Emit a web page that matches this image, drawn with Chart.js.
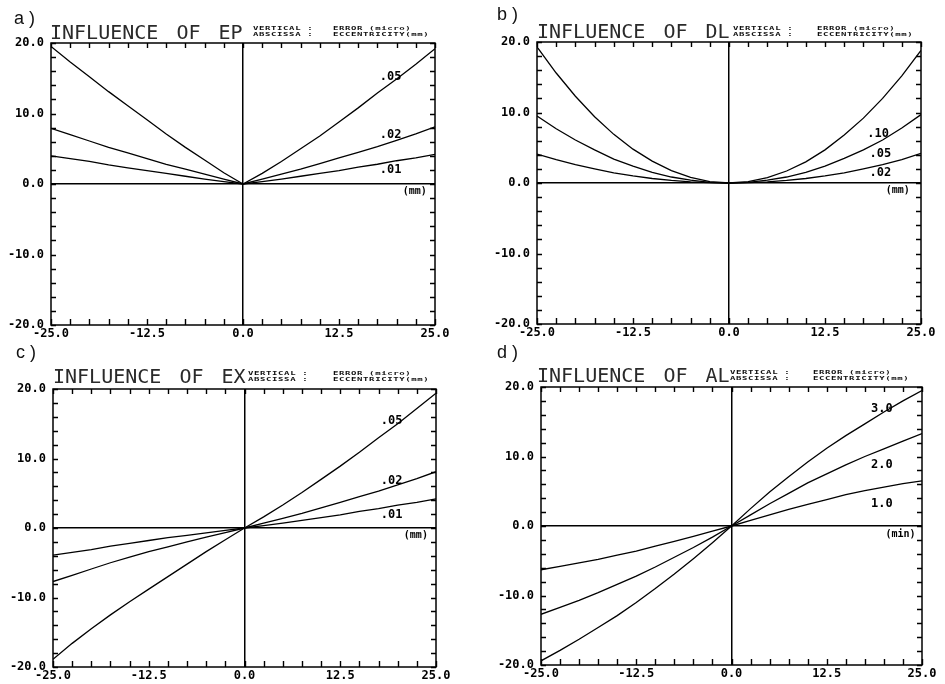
<!DOCTYPE html>
<html><head><meta charset="utf-8">
<script src="https://cdn.jsdelivr.net/npm/chart.js@4.4.0/dist/chart.umd.min.js"></script>
<style>
html,body{margin:0;padding:0;background:#fff;}
body{width:945px;height:684px;position:relative;overflow:hidden;}
.box{position:absolute;}
.lab{position:absolute;font:18px 'Liberation Sans',sans-serif;color:#111;line-height:18px;white-space:pre;}
.ttl{position:absolute;font:20px 'DejaVu Sans Mono',monospace;color:#2a2a2a;word-spacing:6px;white-space:nowrap;line-height:20px;}
.sub{position:absolute;font:bold 9px 'DejaVu Sans Mono',monospace;line-height:9px;letter-spacing:0.6px;white-space:pre;color:#111;transform:scaleY(0.62);transform-origin:0 0;}
</style></head><body>
<script>
// ---- data ----
const X = [-25,-22.5,-20,-17.5,-15,-12.5,-10,-7.5,-5,-2.5,0,2.5,5,7.5,10,12.5,15,17.5,20,22.5,25];
const xTickLabels = [-25,-12.5,0,12.5,25];
const yTickLabels = [-20,-10,0,10,20];

// a) influence of EP
const ep05 = [19.5,17.3,15.2,13.1,11.1,9.1,7.1,5.2,3.4,1.6,0,1.5,3.2,5.0,6.8,8.8,10.8,12.9,14.9,17.0,19.2];
const ep02 = [7.9,7.0,6.1,5.2,4.4,3.6,2.8,2.1,1.4,0.7,0,0.7,1.4,2.1,2.9,3.7,4.5,5.3,6.2,7.1,8.1];
const ep01 = [4.0,3.6,3.2,2.7,2.3,1.9,1.5,1.1,0.7,0.35,0,0.35,0.7,1.1,1.5,1.9,2.4,2.8,3.3,3.7,4.2];
// b) influence of DL
const dl10 = [19.3,15.6,12.3,9.4,6.9,4.8,3.1,1.75,0.8,0.2,0,0.2,0.75,1.7,3.0,4.7,6.8,9.2,12.0,15.2,18.8];
const dl05 = [9.5,7.7,6.1,4.7,3.4,2.4,1.5,0.85,0.4,0.1,0,0.1,0.4,0.85,1.5,2.4,3.5,4.7,6.1,7.8,9.7];
const dl02 = [4.1,3.3,2.6,2.0,1.45,1.0,0.64,0.36,0.16,0.04,0,0.04,0.16,0.36,0.64,1.0,1.45,2.0,2.6,3.3,4.2];
// c) influence of EX
const ex05 = [-18.9,-16.6,-14.5,-12.5,-10.6,-8.8,-7.0,-5.2,-3.4,-1.7,0,1.6,3.3,5.1,7.0,8.9,10.9,13.0,15.0,17.2,19.4];
const ex02 = [-7.7,-6.8,-5.9,-5.0,-4.2,-3.4,-2.7,-2.0,-1.3,-0.65,0,0.7,1.4,2.1,2.9,3.7,4.5,5.3,6.2,7.1,8.1];
const ex01 = [-3.9,-3.5,-3.1,-2.6,-2.2,-1.8,-1.4,-1.05,-0.7,-0.35,0,0.35,0.7,1.1,1.5,1.9,2.4,2.8,3.3,3.7,4.2];
// d) influence of AL
const al30 = [-19.4,-17.9,-16.3,-14.6,-12.9,-11.0,-9.0,-6.9,-4.7,-2.4,0,2.5,4.9,7.1,9.2,11.2,13.0,14.7,16.4,18.0,19.5];
const al20 = [-12.7,-11.7,-10.7,-9.6,-8.4,-7.2,-5.9,-4.5,-3.1,-1.6,0,1.6,3.2,4.7,6.2,7.5,8.8,10.0,11.1,12.2,13.3];
const al10 = [-6.3,-5.8,-5.3,-4.8,-4.2,-3.6,-2.9,-2.2,-1.5,-0.75,0,0.8,1.6,2.4,3.1,3.8,4.5,5.1,5.6,6.1,6.5];

const namesA = ['.05','.02','.01'];
const namesB = ['.10','.05','.02'];
const namesC = ['.05','.02','.01'];
const namesD = ['3.0','2.0','1.0'];

// ---- layout ----
const panels = [
  {tag:'a )', title:'INFLUENCE OF EP', series:[ep05,ep02,ep01], names:namesA, unit:'(mm)',
   box:[0,0,470,342], area:{l:51,t:43,r:435,b:325},
   namePos:[[17.8,15.2],[17.8,6.9],[17.8,2.0]], unitPos:[20.8,-1.0],
   tagXY:[14,9], titleXY:[50,22], subX:[253,333], subY:26},
  {tag:'b )', title:'INFLUENCE OF DL', series:[dl10,dl05,dl02], names:namesB, unit:'(mm)',
   box:[470,0,475,342], area:{l:537,t:42,r:921,b:324},
   namePos:[[18.0,7.0],[18.3,4.2],[18.3,1.4]], unitPos:[20.4,-1.0],
   tagXY:[497,5], titleXY:[537,21], subX:[733,817], subY:26},
  {tag:'c )', title:'INFLUENCE OF EX', series:[ex05,ex02,ex01], names:namesC, unit:'(mm)',
   box:[0,342,470,342], area:{l:53,t:389,r:436,b:667},
   namePos:[[17.8,15.4],[17.8,6.8],[17.8,1.9]], unitPos:[20.8,-1.0],
   tagXY:[16,343], titleXY:[53,366], subX:[248,333], subY:371},
  {tag:'d )', title:'INFLUENCE OF AL', series:[al30,al20,al10], names:namesD, unit:'(min)',
   box:[470,342,475,342], area:{l:541,t:387,r:922,b:665},
   namePos:[[18.3,16.9],[18.3,8.8],[18.3,3.2]], unitPos:[20.2,-1.2],
   tagXY:[497,343], titleXY:[537,365], subX:[730,813], subY:370},
];

const tickFont = {family:'DejaVu Sans Mono', size:12, weight:'bold'};

const framePlugin = {
  id:'frame',
  afterDraw(chart, args, opts){
    const ctx=chart.ctx, a=chart.chartArea, xs=chart.scales.x, ys=chart.scales.y;
    ctx.save();
    ctx.strokeStyle='#000';
    ctx.lineWidth=1.5;
    ctx.strokeRect(a.left,a.top,a.right-a.left,a.bottom-a.top);
    ctx.lineWidth=1.4;
    ctx.beginPath();
    xs.ticks.forEach(t=>{
      const px=Math.round(xs.getPixelForValue(t.value))+0.5;
      ctx.moveTo(px,a.top); ctx.lineTo(px,a.top+5);
      ctx.moveTo(px,a.bottom); ctx.lineTo(px,a.bottom-6);
    });
    ys.ticks.forEach(t=>{
      const py=Math.round(ys.getPixelForValue(t.value))+0.5;
      ctx.moveTo(a.left,py); ctx.lineTo(a.left+5,py);
      ctx.moveTo(a.right,py); ctx.lineTo(a.right-5,py);
    });
    ctx.stroke();
    // curve labels
    ctx.fillStyle='#000';
    ctx.font='bold 12px "DejaVu Sans Mono"';
    ctx.textBaseline='middle';
    ctx.textAlign='left';
    opts.names.forEach((n,i)=>{
      ctx.fillText(n, xs.getPixelForValue(opts.namePos[i][0]), ys.getPixelForValue(opts.namePos[i][1]));
    });
    ctx.font='bold 10px "DejaVu Sans Mono"';
    ctx.fillText(opts.unit, xs.getPixelForValue(opts.unitPos[0]), ys.getPixelForValue(opts.unitPos[1]));
    ctx.restore();
  }
};

function isLabel(v, list){ return list.some(l=>Math.abs(l-v)<1e-6); }

panels.forEach(p=>{
  const [bx,by,bw,bh]=p.box;
  const wrap=document.createElement('div'); wrap.className='box';
  Object.assign(wrap.style,{left:bx+'px',top:by+'px',width:bw+'px',height:bh+'px'});
  const cv=document.createElement('canvas'); cv.width=bw; cv.height=bh;
  cv.style.width=bw+'px'; cv.style.height=bh+'px';
  wrap.appendChild(cv); document.body.appendChild(wrap);

  const tag=document.createElement('div'); tag.className='lab'; tag.textContent=p.tag;
  tag.style.left=p.tagXY[0]+'px'; tag.style.top=p.tagXY[1]+'px'; document.body.appendChild(tag);
  const tt=document.createElement('div'); tt.className='ttl'; tt.textContent=p.title;
  tt.style.left=p.titleXY[0]+'px'; tt.style.top=p.titleXY[1]+'px'; document.body.appendChild(tt);
  const s1=document.createElement('div'); s1.className='sub'; s1.textContent='VERTICAL :\nABSCISSA :';
  s1.style.left=p.subX[0]+'px'; s1.style.top=p.subY+'px'; document.body.appendChild(s1);
  const s2=document.createElement('div'); s2.className='sub'; s2.textContent='ERROR (micro)\nECCENTRICITY(mm)';
  s2.style.left=p.subX[1]+'px'; s2.style.top=p.subY+'px'; document.body.appendChild(s2);

  new Chart(cv,{
    type:'line',
    data:{datasets:p.series.map((s,i)=>({
      label:p.names[i],
      data:X.map((x,j)=>({x:x,y:s[j]})),
      borderColor:'#000', borderWidth:1.3, pointRadius:0, tension:0, fill:false
    }))},
    options:{
      responsive:false, animation:false, events:[],
      layout:{padding:{left:0, top:p.area.t-by, right:bx+bw-p.area.r, bottom:0}},
      plugins:{legend:{display:false}, tooltip:{enabled:false},
        frame:{names:p.names, namePos:p.namePos, unit:p.unit, unitPos:p.unitPos}},
      scales:{
        x:{type:'linear', min:-25, max:25,
          ticks:{stepSize:2.5, autoSkip:false, maxRotation:0, padding:2, color:'#000', font:tickFont,
            callback:(v)=> isLabel(v,xTickLabels) ? Number(v).toFixed(1) : ''},
          grid:{drawTicks:false, lineWidth:1.5,
            color:(c)=> (c.tick && Math.abs(c.tick.value)<1e-9) ? '#000' : 'rgba(0,0,0,0)'},
          border:{display:false},
          afterFit:(s)=>{ s.height = by+bh-p.area.b; }
        },
        y:{type:'linear', min:-20, max:20,
          ticks:{stepSize:2, autoSkip:false, padding:7, color:'#000', font:tickFont,
            callback:(v)=> isLabel(v,yTickLabels) ? Number(v).toFixed(1) : ''},
          grid:{drawTicks:false, lineWidth:1.5,
            color:(c)=> (c.tick && Math.abs(c.tick.value)<1e-9) ? '#000' : 'rgba(0,0,0,0)'},
          border:{display:false},
          afterFit:(s)=>{ s.width = p.area.l-bx; }
        }
      }
    },
    plugins:[framePlugin]
  });
});
</script>
</body></html>
